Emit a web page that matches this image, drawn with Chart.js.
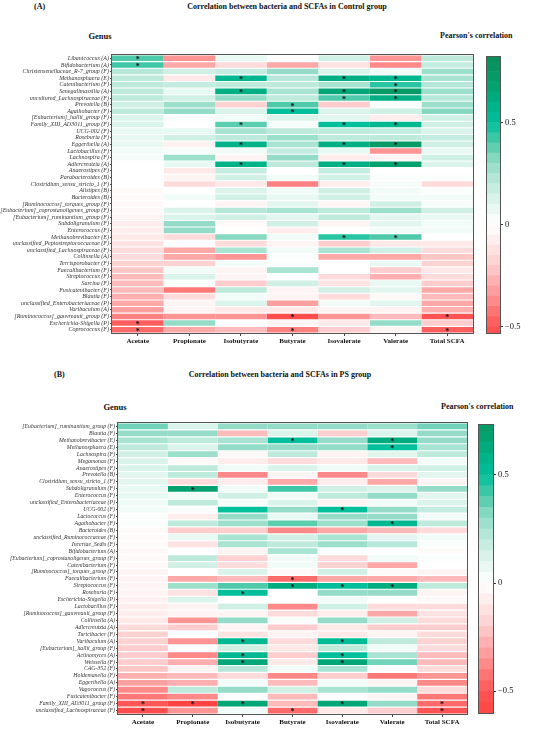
<!DOCTYPE html>
<html>
<head>
<meta charset="utf-8">
<script src="https://cdn.jsdelivr.net/npm/chart.js@4"></script>
<style>
body{margin:0;background:#fff;width:550px;height:730px;position:relative;overflow:hidden;font-family:"Liberation Serif",serif;color:#111}
.t{position:absolute;font-weight:bold;white-space:nowrap;font-size:8px;line-height:10px}
.c{transform:translateX(-50%)}
canvas{position:absolute}
</style>
</head>
<body>
<div class="t" style="left:34px;top:2px">(A)</div>
<div class="t c" style="left:287px;top:2px">Correlation between bacteria and SCFAs in Control group</div>
<div class="t c" style="left:100px;top:31px;font-size:8.5px">Genus</div>
<div class="t" style="left:440px;top:31px">Pearson's correlation</div>
<canvas id="hmA" width="478" height="300" style="left:0;top:50px"></canvas>
<canvas id="cbA" width="70" height="290" style="left:480px;top:50px"></canvas>

<div class="t" style="left:54px;top:370px">(B)</div>
<div class="t c" style="left:280px;top:370px">Correlation between bacteria and SCFAs in PS group</div>
<div class="t c" style="left:115px;top:402px;font-size:8.5px">Genus</div>
<div class="t" style="left:441px;top:402px">Pearson's correlation</div>
<canvas id="hmB" width="472" height="312" style="left:0;top:418px"></canvas>
<canvas id="cbB" width="78" height="302" style="left:472px;top:418px"></canvas>

<script>
// columns
var scfa = ['Acetate','Propionate','Isobutyrate','Butyrate','Isovalerate','Valerate','Total SCFA']

// ---- (A) control group ----
var genusA = ['Libanicoccus (A)','Bifidobacterium (A)','Christensenellaceae_R-7_group (F)','Methanosphaera (E)',
 'Catenibacterium (F)','Senegalimassilia (A)','uncultured_Lachnospiraceae (F)','Prevotella (B)','Agathobacter (F)',
 '[Eubacterium]_hallii_group (F)','Family_XIII_AD3011_group (F)','UCG-002 (F)','Roseburia (F)','Eggerthella (A)',
 'Lactobacillus (F)','Lachnospira (F)','Adlercreutzia (A)','Anaerostipes (F)','Parabacteroides (B)',
 'Clostridium_sensu_stricto_1 (F)','Alistipes (B)','Bacteroides (B)','[Ruminococcus]_torques_group (F)',
 '[Eubacterium]_coprostanoligenes_group (F)','[Eubacterium]_ruminantium_group (F)','Subdoligranulum (F)',
 'Enterococcus (F)','Methanobrevibacter (E)','unclassified_Peptostreptococcaceae (F)','unclassified_Lachnospiraceae (F)',
 'Collinsella (A)','Terrisporobacter (F)','Faecalibacterium (F)','Streptococcus (F)','Sarcina (F)','Fusicatenibacter (F)',
 'Blautia (F)','unclassified_Enterobacteriaceae (P)','Varibaculum (A)','[Ruminococcus]_gauvreauii_group (F)',
 'Escherichia-Shigella (P)','Coprococcus (F)']

var acetateA = [0.4,0.42,0.22,0.2,0.2,0.2,0.2,0.15,0.2,0.12,0.12,0.08,0.08,0.08,0.05,0.03,0,0,0,0,-0.02,-0.02,-0.03,-0.03,-0.05,-0.08,-0.08,-0.1,-0.12,-0.15,-0.15,-0.18,-0.22,-0.25,-0.25,-0.25,-0.28,-0.3,-0.32,-0.4,-0.48,-0.45]
var propionateA = [-0.35,-0.3,0.15,-0.1,0.18,0.08,0.15,0.28,0.3,0.02,0,0.08,0.15,-0.06,0.03,0.28,0.08,-0.1,-0.05,-0.15,0,0.05,0,0.12,0.12,0.3,0.3,-0.15,0,-0.3,-0.3,-0.18,0.05,0.12,0,-0.42,-0.15,-0.05,-0.05,-0.35,0.3,-0.3]
var isobutyrateA = [0.08,-0.15,0.18,0.55,0.2,0.6,0.3,-0.18,0.12,0.05,0.38,0.25,0.2,0.58,0.05,-0.05,0.58,0.18,0.15,-0.1,0.12,0.15,-0.05,0.22,0.15,-0.02,0,0.32,-0.15,0.25,-0.35,0.05,-0.05,-0.05,-0.2,0.2,0.05,0.12,-0.1,-0.35,0,-0.25]
var butyrateA = [0,-0.3,0.3,0.22,0.2,0.25,0.2,0.4,0.5,0.12,0.03,0.2,0.28,0.25,0.18,0.3,0.2,0,0.05,-0.4,0.05,0.08,0.1,0.25,0.1,0.15,-0.08,0.05,-0.05,0.05,0.02,0.02,0.25,0,0.15,-0.05,-0.05,-0.32,-0.1,-0.55,-0.05,-0.4]
var isovalerateA = [0.15,-0.12,0.12,0.6,0.25,0.65,0.4,-0.2,0.12,0.1,0.5,0.2,0.2,0.6,0.08,-0.08,0.6,0.18,0.15,-0.08,0.15,0.15,-0.05,0.2,0.2,-0.05,0,0.45,-0.2,0.25,-0.3,0,0,-0.15,-0.12,0.15,-0.15,0.05,-0.05,-0.35,-0.1,-0.2]
var valerateA = [-0.35,-0.38,0.05,0.55,0.45,0.72,0.6,0.02,0.15,-0.08,0.55,0.18,0.2,0.72,-0.35,-0.05,0.68,0,0.02,0.03,0.05,0.05,0.15,0.28,0.1,0.1,0.05,0.4,-0.1,0.15,-0.3,0.08,-0.2,-0.28,0.08,0.1,-0.02,0.1,-0.05,-0.25,0.3,-0.05]
var totalA = [0.2,0.18,0.28,0.25,0.22,0.28,0.22,0.28,0.32,0.15,0.15,0.12,0.18,0.15,0.08,0.15,0.12,0,0.02,-0.15,0.02,0.05,0.03,0.15,0.08,0.05,0.05,0,-0.1,-0.15,-0.22,-0.18,-0.1,-0.15,-0.2,-0.3,-0.25,-0.3,-0.28,-0.52,-0.2,-0.48]
// significant cells [row, column]
var starsA = [[0,0],[1,0],[3,2],[3,4],[3,5],[4,5],[5,2],[5,4],[5,5],[6,4],[6,5],[7,3],[8,3],[10,2],[10,4],[10,5],
 [13,2],[13,4],[13,5],[16,2],[16,4],[16,5],[27,4],[27,5],[39,3],[39,6],[40,0],[41,0],[41,3],[41,6]]

// ---- (B) PS group ----
var genusB = ['[Eubacterium]_ruminantium_group (F)','Blautia (F)','Methanobrevibacter (E)','Methanosphaera (E)',
 'Lachnospira (F)','Megamonas (F)','Anaerostipes (F)','Prevotella (B)','Clostridium_sensu_stricto_1 (F)',
 'Subdoligranulum (F)','Enterococcus (F)','unclassified_Enterobacteriaceae (P)','UCG-002 (F)','Lactococcus (F)',
 'Agathobacter (F)','Bacteroides (B)','unclassified_Ruminococcaceae (F)','Incertae_Sedis (F)','Bifidobacterium (A)',
 '[Eubacterium]_coprostanoligenes_group (F)','Catenibacterium (F)','[Ruminococcus]_torques_group (F)',
 'Faecalibacterium (F)','Streptococcus (F)','Roseburia (F)','Escherichia-Shigella (P)','Lactobacillus (F)',
 '[Ruminococcus]_gauvreauii_group (F)','Collinsella (A)','Adlercreutzia (A)','Turicibacter (F)','Varibaculum (A)',
 '[Eubacterium]_hallii_group (F)','Actinomyces (A)','Weissella (F)','CAG-352 (F)','Holdemanella (F)','Eggerthella (A)',
 'Vagococcus (F)','Fusicatenibacter (F)','Family_XIII_AD3011_group (F)','unclassified_Lachnospiraceae (F)']

var acetateB = [0.35,0.3,0.25,0.2,0.15,0.12,0.12,0.1,0.1,0.08,0.08,0.06,0.05,0.02,0.02,-0.02,-0.02,-0.02,-0.03,-0.03,-0.03,-0.05,-0.05,-0.05,-0.05,-0.06,-0.08,-0.08,-0.1,-0.15,-0.18,-0.18,-0.2,-0.2,-0.2,-0.22,-0.28,-0.32,-0.38,-0.42,-0.5,-0.55]
var propionateB = [0.12,0.3,0.2,0.12,0.28,-0.02,0.2,0.2,-0.15,0.68,0.05,0.2,0.02,-0.08,0.2,-0.2,0.08,-0.12,0,0.2,0.15,0,-0.3,0.28,-0.12,0.12,-0.05,-0.05,-0.35,-0.2,0,-0.35,0,-0.38,-0.28,-0.05,-0.25,-0.28,0.2,-0.38,-0.6,-0.35]
var isobutyrateB = [0.3,-0.25,0.25,0.3,-0.03,-0.08,0.05,-0.38,-0.08,0.05,0.15,0.03,0.5,0.3,0.28,-0.2,0.25,0.25,-0.05,-0.18,-0.15,0.12,-0.25,0.4,0.5,0,0.15,-0.05,0.3,-0.05,-0.12,0.55,0.15,0.55,0.65,0.22,-0.15,0.05,0.3,0,0.65,0.05]
var butyrateB = [0.3,0.12,0.5,0.3,0.2,-0.15,0.12,-0.05,-0.3,0.42,0.05,0.12,0.3,0.08,0.38,-0.38,0.15,0.2,0.25,0.05,0.05,-0.03,-0.45,0.62,0,0,-0.38,-0.15,0.02,-0.2,-0.05,-0.15,-0.1,-0.2,-0.1,0.05,-0.38,-0.25,0.15,-0.25,-0.25,-0.45]
var isovalerateB = [0.3,-0.2,0.3,0.3,-0.05,-0.1,0.05,-0.38,-0.08,0.15,0.2,-0.05,0.5,0.3,0.28,-0.3,0.25,0.28,0.02,-0.15,-0.18,0.15,-0.3,0.5,0.3,0.05,0.15,-0.08,0.3,-0.1,-0.1,0.52,0.2,0.5,0.65,0.25,-0.2,0.05,0.25,0,0.65,-0.1]
var valerateB = [0.28,0.12,0.62,0.5,0.1,-0.25,0.12,-0.15,-0.3,0.12,0.3,0.05,0.3,0.3,0.55,-0.25,0.1,0.22,0,0.05,-0.3,-0.02,-0.3,0.62,0.3,0,-0.15,-0.3,0.15,-0.2,-0.05,0.2,0.05,0.25,0.35,0.02,-0.42,-0.05,0.3,-0.05,0.3,-0.2]
var totalB = [0.35,0.3,0.3,0.25,0.2,0.05,0.15,0.1,-0.05,0.3,0.1,0.12,0.18,0.05,0.2,-0.15,0.05,0.02,-0.02,0.02,0,-0.05,-0.25,0.2,-0.05,-0.02,-0.15,-0.12,-0.15,-0.2,-0.15,-0.18,-0.15,-0.25,-0.25,-0.15,-0.35,-0.38,-0.15,-0.42,-0.45,-0.52]
var starsB = [[2,3],[2,5],[3,5],[9,1],[12,4],[14,5],[22,3],[23,3],[23,4],[23,5],[24,2],[31,2],[31,4],[33,2],[33,4],
 [34,2],[34,4],[40,0],[40,1],[40,2],[40,4],[40,6],[41,0],[41,3],[41,6]]

// colour ramp: white -> mint -> teal -> dark green, white -> pink -> red
var posStops = [[0,[255,255,255]],[0.1,[226,246,239]],[0.2,[190,234,220]],[0.3,[148,220,199]],[0.4,[78,202,170]],
 [0.5,[0,191,155]],[0.6,[0,176,132]],[0.7,[6,157,106]],[0.85,[12,136,86]]]
var negStops = [[0,[255,255,255]],[0.1,[255,232,232]],[0.2,[255,205,205]],[0.3,[255,168,168]],[0.4,[255,128,128]],
 [0.5,[255,86,86]],[0.65,[255,58,58]]]

function colour(v) {
	var stops = v >= 0 ? posStops : negStops
	var a = Math.abs(v)
	for (var i = 1; i < stops.length; i++) {
		if (a <= stops[i][0] || i == stops.length - 1) {
			var t = Math.min(1, (a - stops[i-1][0]) / (stops[i][0] - stops[i-1][0]))
			var c0 = stops[i-1][1], c1 = stops[i][1]
			return 'rgb(' + [0,1,2].map(k => Math.round(c0[k] + (c1[k] - c0[k]) * t)).join(',') + ')'
		}
	}
}

var serif = '"Liberation Serif", "DejaVu Serif", serif'

// frame + significance marks
var overlay = {
	id: 'overlay',
	afterDatasetsDraw(chart, args, opts) {
		var ctx = chart.ctx, a = chart.chartArea, x = chart.scales.x, y = chart.scales.y
		ctx.save()
		if (opts.stars) {
			ctx.fillStyle = '#111'
			ctx.font = 'bold 8px ' + serif
			ctx.textAlign = 'center'
			ctx.textBaseline = 'middle'
			opts.stars.forEach(function (s) {
				ctx.fillText('*', x.getPixelForValue(s[1] + 0.5), y.getPixelForValue(s[0]) + 1.8)
			})
		}
		ctx.strokeStyle = '#555'
		ctx.lineWidth = 1
		ctx.strokeRect(Math.round(a.left) - 0.5, Math.round(a.top) - 0.5, Math.round(a.width) + 1, Math.round(a.height) + 1)
		ctx.restore()
	}
}

function heatmap(id, genus, cols, stars, yWidth, xHeight, labelSize) {
	new Chart(document.getElementById(id), {
		type: 'bar',
		data: {
			labels: genus,
			datasets: cols.map(function (vals, i) {
				return {
					label: scfa[i],
					data: genus.map(() => 1),
					backgroundColor: vals.map(colour),
					borderWidth: 0,
					barPercentage: 0.84,
					categoryPercentage: 1
				}
			})
		},
		options: {
			indexAxis: 'y',
			responsive: false,
			animation: false,
			events: [],
			layout: { padding: { top: 5, right: 5, left: 0, bottom: 0 } },
			plugins: { legend: { display: false }, tooltip: { enabled: false }, overlay: { stars: stars } },
			scales: {
				x: {
					type: 'linear', stacked: true, min: 0, max: 7,
					afterBuildTicks: function (s) { s.ticks = scfa.map((c, i) => ({ value: i + 0.5 })) },
					afterFit: function (s) { s.height = xHeight },
					ticks: { callback: (v, i) => scfa[i], autoSkip: false, maxRotation: 0, padding: 1,
						color: '#111', font: { family: serif, weight: 'bold', size: 7 } },
					grid: { drawOnChartArea: false, tickLength: 3, color: '#444' },
					border: { display: false }
				},
				y: {
					stacked: true,
					afterFit: function (s) { s.width = yWidth },
					ticks: { autoSkip: false, padding: 1, color: '#333',
						font: { family: serif, style: 'italic', size: labelSize } },
					grid: { drawOnChartArea: false, offset: false, tickLength: 2, color: '#444' },
					border: { display: false }
				}
			}
		},
		plugins: [overlay]
	})
}

function colorbar(id, lo, hi, padLeft, axisWidth, padBottom) {
	var edges = [lo]
	for (var e = Math.ceil(lo / 0.05 + 1e-6) * 0.05; e < hi - 1e-6; e += 0.05) edges.push(+e.toFixed(2))
	edges.push(hi)
	var bands = []
	for (var i = 0; i < edges.length - 1; i++) {
		bands.push({
			data: [[edges[i], edges[i+1]]],
			backgroundColor: colour((edges[i] + edges[i+1]) / 2),
			borderWidth: 0, grouped: false, barPercentage: 1, categoryPercentage: 1
		})
	}
	new Chart(document.getElementById(id), {
		type: 'bar',
		data: { labels: [''], datasets: bands },
		options: {
			responsive: false,
			animation: false,
			events: [],
			layout: { padding: { top: 5, left: padLeft, right: 0, bottom: padBottom } },
			plugins: { legend: { display: false }, tooltip: { enabled: false } },
			scales: {
				x: { display: false },
				y: {
					position: 'right', min: lo, max: hi,
					afterBuildTicks: function (s) { s.ticks = [{ value: -0.5 }, { value: 0 }, { value: 0.5 }] },
					afterFit: function (s) { s.width = axisWidth },
					ticks: { callback: v => v == 0 ? '0' : (v < 0 ? '\u22120.5' : '0.5'), padding: 2, color: '#111',
						font: { family: serif, size: 8.5 } },
					grid: { drawOnChartArea: false, tickLength: 3, color: '#333' },
					border: { display: false }
				}
			}
		},
		plugins: [overlay]
	})
}

heatmap('hmA', genusA, [acetateA, propionateA, isobutyrateA, butyrateA, isovalerateA, valerateA, totalA], starsA, 112, 17, 6)
colorbar('cbA', -0.53, 0.82, 7, 50, 7)
heatmap('hmB', genusB, [acetateB, propionateB, isobutyrateB, butyrateB, isovalerateB, valerateB, totalB], starsB, 118, 16, 5.8)
colorbar('cbB', -0.6, 0.73, 7, 57, 6)
</script>
</body>
</html>
